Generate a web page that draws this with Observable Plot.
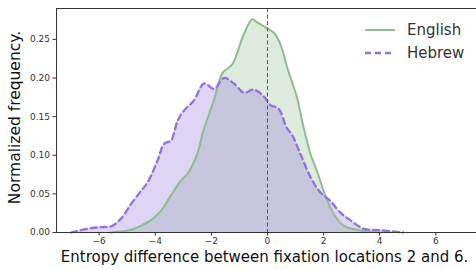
<!DOCTYPE html>
<html>
<head>
<meta charset="utf-8">
<script src="https://cdn.jsdelivr.net/npm/d3@7"></script>
<script src="https://cdn.jsdelivr.net/npm/@observablehq/plot@0.6"></script>
<style>
  html, body { margin: 0; padding: 0; background: #fff; }
  #wrap { position: relative; width: 476px; height: 270px; font-family: "DejaVu Sans", sans-serif; }
  #legend { position: absolute; left: 364px; top: 18px; font-size: 15px; color: #333; }
  #legend .row { display: flex; align-items: center; height: 23px; }
  #legend svg { margin-right: 11px; }
</style>
</head>
<body>
<div id="wrap"><div id="legend"></div></div>
<script>
const seriesNames = ["English", "Hebrew"];
const seriesColors = ["#8FBC8F", "#9370DB"];

const englishX = [-5.6, -4.86, -4.5, -4.15, -3.8, -3.44, -3.09, -2.85, -2.5, -2.3, -1.91, -1.61, -1.25, -0.84, -0.54, -0.37, 0.05, 0.22, 0.46, 0.7, 1.05, 1.23, 1.53, 1.76, 2.06, 2.36, 2.71, 3.18, 4.0];
const englishY = [0.0, 0.0035, 0.009, 0.016, 0.028, 0.048, 0.067, 0.076, 0.102, 0.13, 0.171, 0.206, 0.218, 0.257, 0.276, 0.272, 0.263, 0.259, 0.244, 0.214, 0.175, 0.145, 0.102, 0.08, 0.048, 0.024, 0.009, 0.0035, 0.0];

const hebrewX = [-7.0, -6.4, -5.93, -5.57, -5.22, -4.86, -4.5, -4.27, -3.92, -3.68, -3.44, -3.2, -2.97, -2.62, -2.26, -1.9, -1.55, -1.2, -0.84, -0.49, -0.13, 0.11, 0.4, 0.68, 0.88, 1.17, 1.53, 1.88, 2.24, 2.59, 2.95, 3.42, 4.0, 4.84];
const hebrewY = [0.0, 0.005, 0.007, 0.008, 0.018, 0.037, 0.054, 0.065, 0.093, 0.115, 0.119, 0.145, 0.158, 0.171, 0.193, 0.186, 0.2, 0.193, 0.181, 0.185, 0.176, 0.165, 0.16, 0.136, 0.126, 0.102, 0.072, 0.052, 0.041, 0.026, 0.016, 0.005, 0.003, 0.0];

const xTicks = [-6, -4, -2, 0, 2, 4, 6];
const yTicks = [0, 0.05, 0.10, 0.15, 0.20, 0.25];
const xDomain = [-7.52, 7.45];
const yDomain = [0, 0.29];
const refLine = [0];

const english = englishX.map((x, i) => ({x, y: englishY[i], s: "English"}));
const hebrew = hebrewX.map((x, i) => ({x, y: hebrewY[i], s: "Hebrew"}));
const fmtX = d => d < 0 ? "\u2212" + Math.abs(d) : String(d);

const chart = Plot.plot({
  width: 476,
  height: 270,
  marginLeft: 56,
  marginRight: 0,
  marginTop: 8,
  marginBottom: 38,
  style: { fontFamily: "DejaVu Sans, sans-serif", fontSize: "9px", color: "#333", background: "white" },
  x: { domain: xDomain, label: null },
  y: { domain: yDomain, label: null },
  marks: [
    Plot.areaY(english, {x: "x", y: "y", fill: seriesColors[0], fillOpacity: 0.3, curve: "catmull-rom"}),
    Plot.areaY(hebrew, {x: "x", y: "y", fill: seriesColors[1], fillOpacity: 0.3, curve: "catmull-rom"}),
    Plot.line(english, {x: "x", y: "y", stroke: seriesColors[0], strokeWidth: 2, curve: "catmull-rom"}),
    Plot.line(hebrew, {x: "x", y: "y", stroke: seriesColors[1], strokeWidth: 2.3, strokeDasharray: "6,4", curve: "catmull-rom"}),
    Plot.ruleX(refLine, {stroke: "#555", strokeWidth: 1, strokeDasharray: "4,2.5"}),
    Plot.ruleX([xDomain[0]], {stroke: "#333", strokeWidth: 1}),
    Plot.ruleY([yDomain[1]], {stroke: "#333", strokeWidth: 1}),
    Plot.ruleY([yDomain[0]], {stroke: "#333", strokeWidth: 1}),
    Plot.axisX({ticks: xTicks, tickFormat: fmtX, tickSize: 3.5, tickPadding: 2, label: null}),
    Plot.axisY({ticks: yTicks, tickFormat: d => d.toFixed(2), tickSize: 3.5, tickPadding: 3, label: null}),
    Plot.text(["Normalized frequency."], {frameAnchor: "left", dx: -41, dy: -3, rotate: -90, fontSize: 15.5, fill: "#111", textAnchor: "middle"}),
    Plot.text(["Entropy difference between fixation locations 2 and 6."], {frameAnchor: "bottom", dx: -2, dy: 29, fontSize: 15, fill: "#111", textAnchor: "middle"})
  ]
});

const wrap = document.getElementById("wrap");
wrap.insertBefore(chart, wrap.firstChild);

const legend = document.getElementById("legend");
seriesNames.forEach((name, i) => {
  const row = document.createElement("div");
  row.className = "row";
  const dash = i === 1 ? 'stroke-dasharray="6,4"' : "";
  row.innerHTML = `<svg width="32" height="6"><line x1="1" y1="3" x2="31" y2="3" stroke="${seriesColors[i]}" stroke-width="${i === 1 ? 2.3 : 2}" ${dash}/></svg><span>${name}</span>`;
  legend.appendChild(row);
});
</script>
</body>
</html>
